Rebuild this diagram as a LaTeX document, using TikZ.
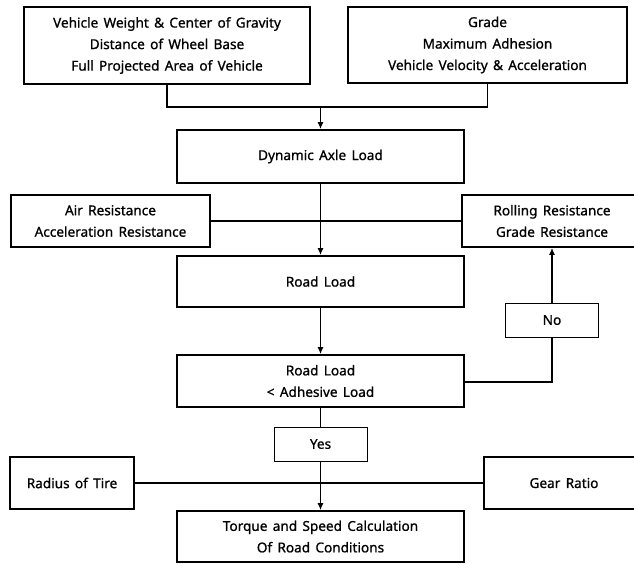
\documentclass[tikz,border=0pt]{standalone}
\usepackage{fontspec}
\setmainfont{Noto Sans}[FakeBold=0.9, WordSpace=1.5]
\usetikzlibrary{arrows.meta}
\begin{document}
\begin{tikzpicture}[x=1pt,y=-1pt,
  txt/.style={font=\fontsize{13.6}{21.5}\selectfont},
  box/.style={draw, line width=1.6pt, fill=white, align=center, inner sep=0pt, txt},
  smallbox/.style={draw, line width=1pt, fill=white, align=center, inner sep=0pt,
    minimum width=93pt, minimum height=34pt, txt},
  conn/.style={line width=1.6pt},
  arr/.style={line width=1.6pt, -{Latex[length=7pt,width=6pt]}}]
\useasboundingbox (0,0) rectangle (634,563);
\begin{scope}
\clip (0,0) rectangle (634,563);
\node[box, minimum width=286pt, minimum height=77pt] (b1) at (167,45.5)
  {Vehicle Weight \& Center of Gravity\\Distance of Wheel Base\\Full Projected Area of Vehicle};
\node[box, minimum width=279pt, minimum height=76pt] (b2) at (487.5,45)
  {Grade\\Maximum Adhesion\\Vehicle Velocity \& Acceleration};
\coordinate (m) at (320.5,107);
\node[box, minimum width=287pt, minimum height=53pt] (dyn) at (320.5,156.5) {Dynamic Axle Load};
\node[box, minimum width=199pt, minimum height=52pt] (air) at (110.5,221)
  {Air Resistance\\Acceleration Resistance};
\node[box, minimum width=174pt, minimum height=52pt] (roll) at (549,221) {};
\node[txt, align=center] (rolltxt) at (552,221)
  {Rolling Resistance\\Grade Resistance};
\node[box, minimum width=287pt, minimum height=51pt] (road) at (320.5,281.5) {Road Load};
\node[box, minimum width=287pt, minimum height=52pt] (cond) at (320.5,381)
  {Road Load\\\textless{} Adhesive Load};
\node[smallbox] (no) at (552,320) {No};
\node[smallbox] (yes) at (320.5,444) {Yes};
\node[box, minimum width=124pt, minimum height=52pt] (tire) at (72,483) {Radius of Tire};
\node[box, minimum width=152pt, minimum height=52pt] (gear) at (560,483) {};
\node[txt] (geartxt) at (564,483) {Gear Ratio};
\node[box, minimum width=287pt, minimum height=51pt] (tq) at (320.5,536.5)
  {Torque and Speed Calculation\\Of Road Conditions};
\end{scope}
% connectors
\draw[conn] (b1.south) |- (m);
\draw[conn] (b2.south) |- (m);
\draw[arr] (m) -- (dyn.north);
\draw[conn] (air.east) -- (roll.west);
\draw[arr] (dyn.south) -- (road.north);
\draw[arr] (road.south) -- (cond.north);
\draw[conn] (cond.east |- 0,382) -| (no.south);
\draw[arr] (no.north) -- (no.north |- roll.south);
\draw[conn] (cond.south) -- (yes.north);
\draw[conn] (tire.east) -- (gear.west);
\draw[arr] (yes.south) -- (tq.north);
\end{tikzpicture}
\end{document}
